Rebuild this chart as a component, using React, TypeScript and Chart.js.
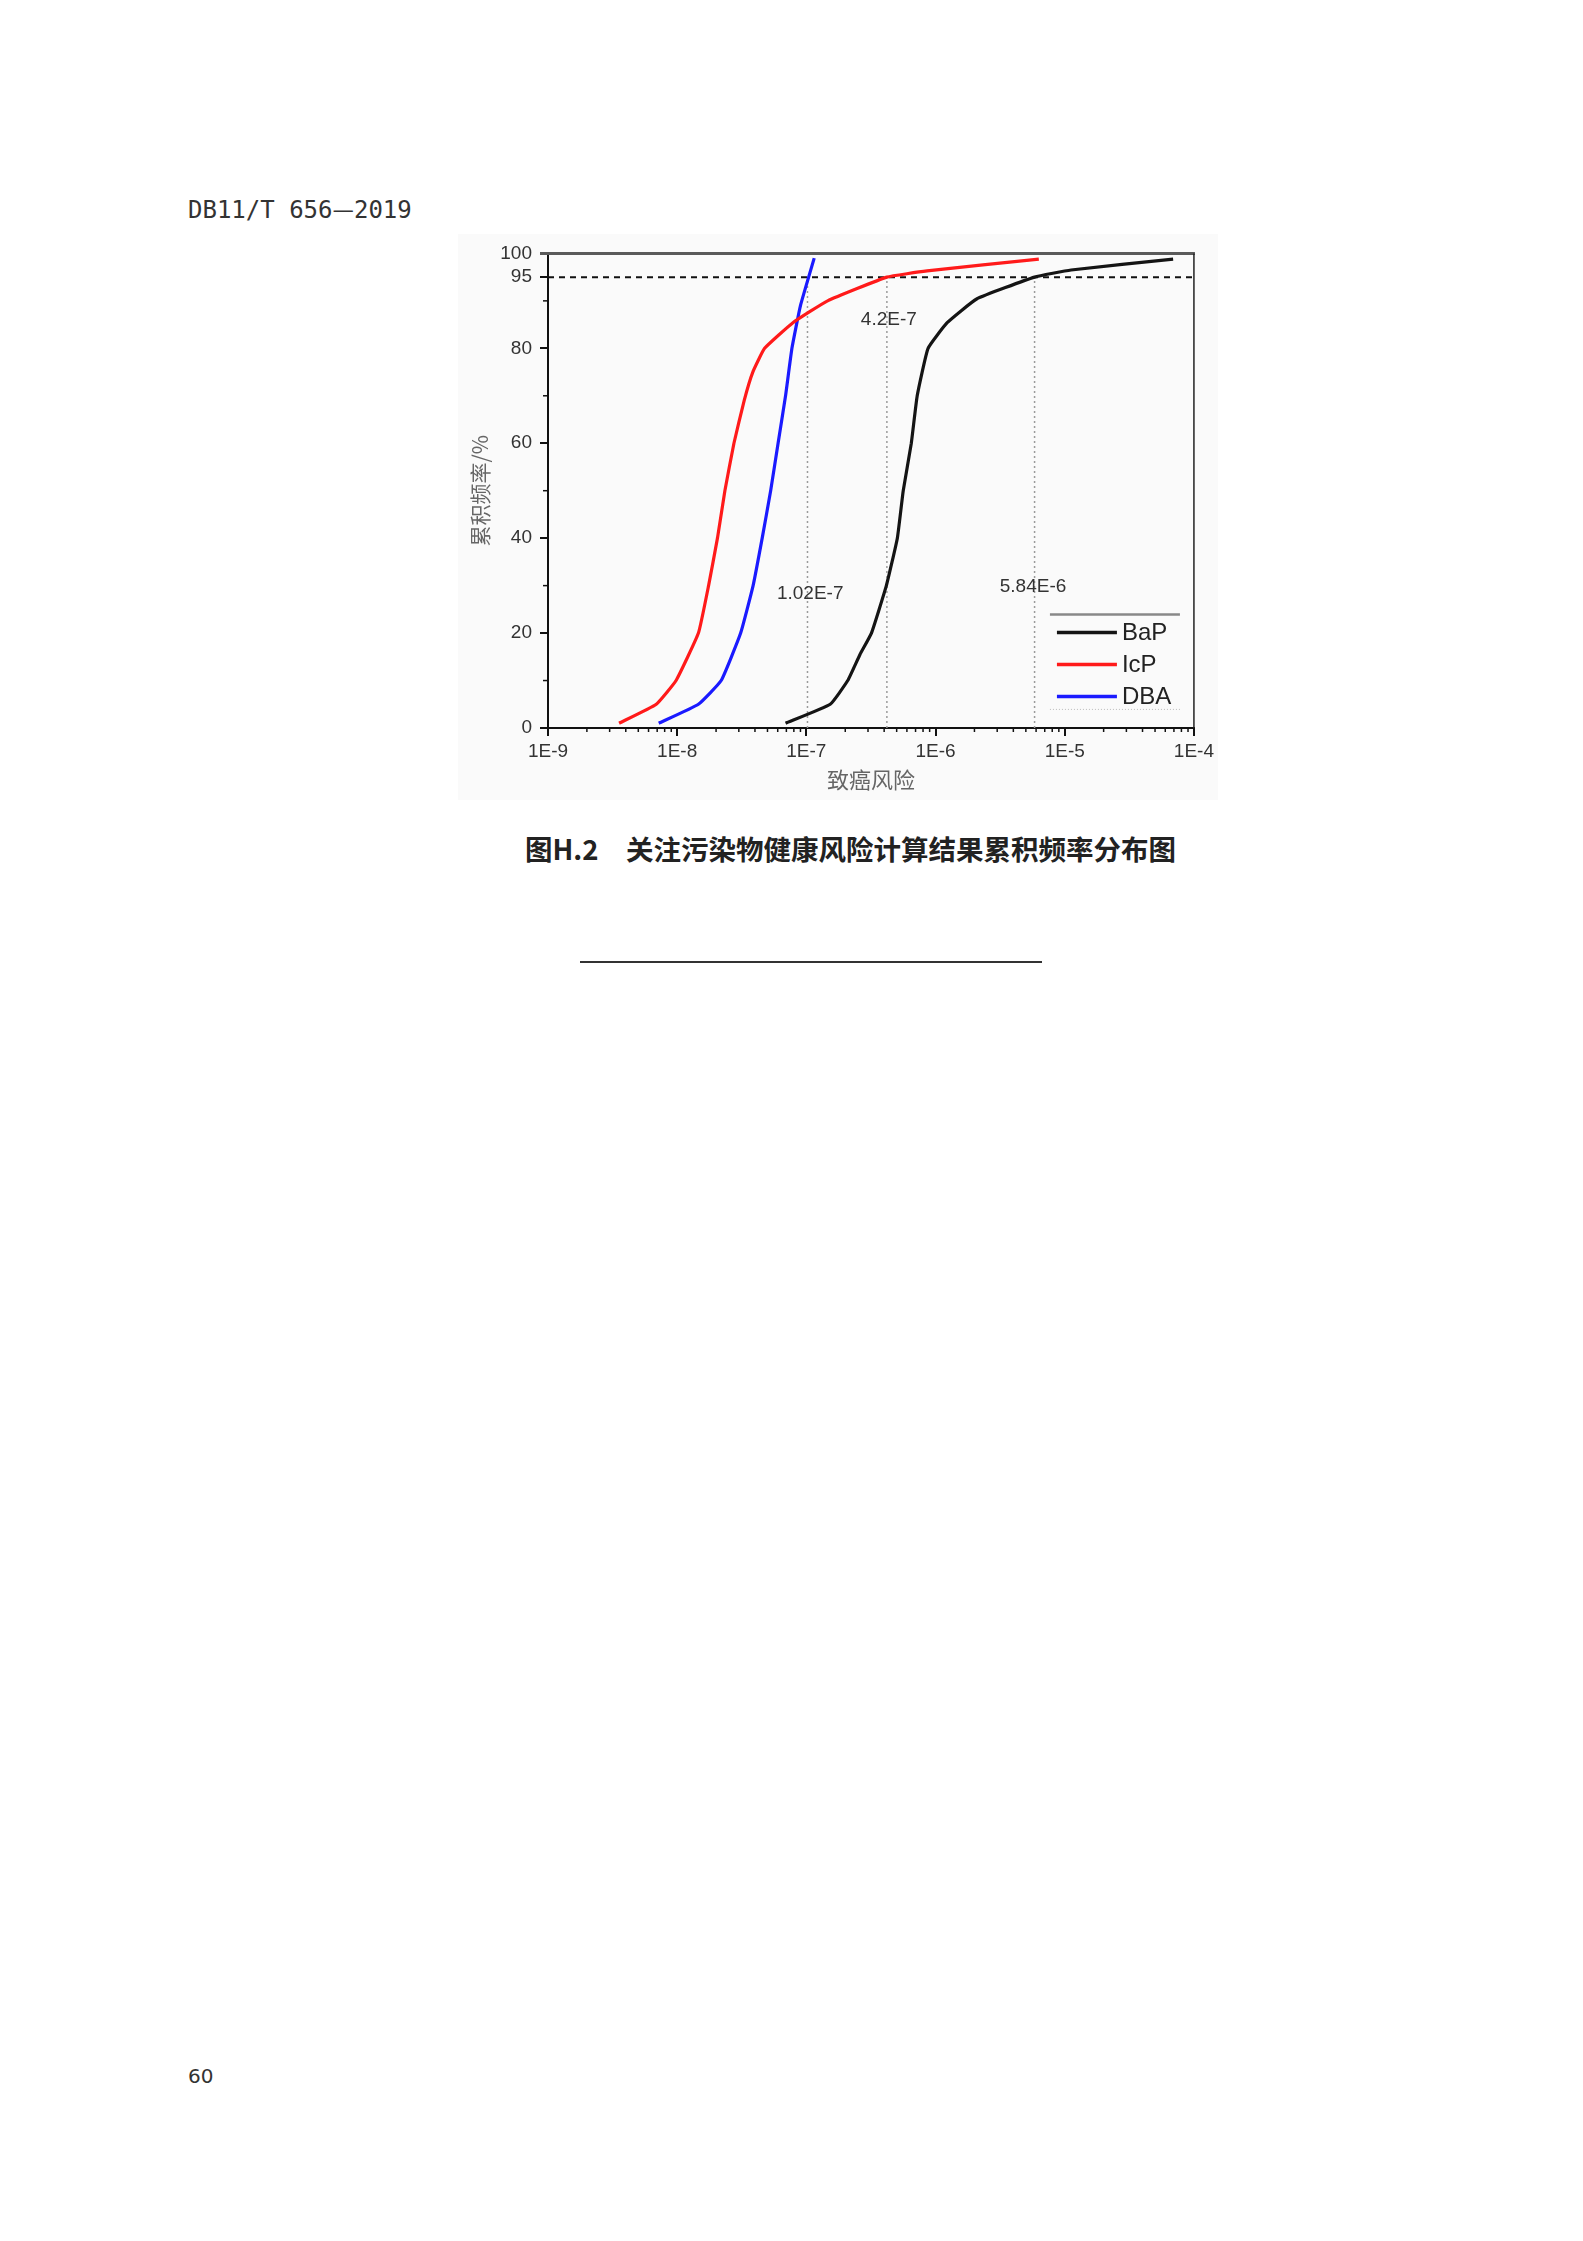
import React, { useEffect, useRef } from "react";
import { Chart, registerables } from "chart.js";

Chart.register(...registerables);

// ---------- data ----------
const seriesNames = ["BaP", "IcP", "DBA"];
const seriesColors = ["#141414", "#ff1a1a", "#1a1aff"];

const bapRisk = [6.9e-8, 1.53e-7, 2.09e-7, 2.6e-7, 3.19e-7, 4.16e-7, 5.06e-7, 5.62e-7, 6.49e-7, 7.21e-7, 8.75e-7, 1.23e-6, 2.08e-6, 5.84e-6, 1.12e-5, 6.9e-5];
const bapFreq = [1, 5, 10, 15.5, 20, 30, 40, 50, 60, 70, 80, 85.4, 90.4, 95, 96.5, 98.8];

const icpRisk = [3.55e-9, 6.89e-9, 9.8e-9, 1.46e-8, 1.75e-8, 2.05e-8, 2.34e-8, 2.75e-8, 3.3e-8, 3.85e-8, 4.75e-8, 7.87e-8, 1.46e-7, 4.2e-7, 8.6e-7, 6.3e-6];
const icpFreq = [1, 5, 10, 20, 30, 40, 50, 60, 69, 75, 80, 85.4, 90, 95, 96.3, 98.8];

const dbaRisk = [7.2e-9, 1.46e-8, 2.19e-8, 3.1e-8, 3.87e-8, 4.55e-8, 5.29e-8, 6.04e-8, 6.9e-8, 7.73e-8, 9.0e-8, 1.15e-7];
const dbaFreq = [1, 5, 10, 20, 30, 40, 50, 60, 70, 80, 89, 99];

const xTickValues = [1e-9, 1e-8, 1e-7, 1e-6, 1e-5, 1e-4];
const xTickLabels = ["1E-9", "1E-8", "1E-7", "1E-6", "1E-5", "1E-4"];
const yTickValues = [0, 20, 40, 60, 80, 95, 100];
const yMinorTicks = [10, 30, 50, 70, 90];
const xMinorMultipliers = [2, 3, 4, 5, 6, 7, 8, 9];

const refLevel = 95;
const refRisks = [1.02e-7, 4.2e-7, 5.84e-6];
const refLabels = ["1.02E-7", "4.2E-7", "5.84E-6"];
const refLabelRisk = [1.07e-7, 4.35e-7, 5.68e-6];
const refLabelFreq = [28.2, 86, 29.7];

const xTitle = "致癌风险";
const yTitle = "累积频率/%";

const headerPre = "DB11/T 656";
const headerDash = "—";
const headerPost = "2019";
const captionText = "图H.2\u3000关注污染物健康风险计算结果累积频率分布图";
const pageNumber = "60";

// ---------- helpers ----------
const toPoints = (xs: number[], ys: number[]) => xs.map((x, i) => ({ x, y: ys[i] }));

const decorPlugin = {
  id: "decor",
  afterDatasetsDraw(chart: any) {
    const { ctx, chartArea, scales } = chart;
    const xs = scales.x;
    const ys = scales.y;
    const { left, right, top, bottom } = chartArea;
    ctx.save();
    // top frame
    ctx.strokeStyle = "#5a5a5a";
    ctx.lineWidth = 3;
    ctx.beginPath();
    ctx.moveTo(left - 8, top);
    ctx.lineTo(right + 1, top);
    ctx.stroke();
    // right frame
    ctx.strokeStyle = "#222";
    ctx.lineWidth = 1.5;
    ctx.beginPath();
    ctx.moveTo(right, top);
    ctx.lineTo(right, bottom);
    ctx.stroke();
    // minor ticks
    ctx.strokeStyle = "#111";
    ctx.lineWidth = 1.5;
    yMinorTicks.forEach((v) => {
      const y = ys.getPixelForValue(v);
      ctx.beginPath();
      ctx.moveTo(left - 5, y);
      ctx.lineTo(left, y);
      ctx.stroke();
    });
    for (let d = -9; d < -4; d++) {
      xMinorMultipliers.forEach((m) => {
        const x = xs.getPixelForValue(m * Math.pow(10, d));
        ctx.beginPath();
        ctx.moveTo(x, bottom);
        ctx.lineTo(x, bottom + 4);
        ctx.stroke();
      });
    }
    // annotation labels
    ctx.fillStyle = "#333";
    ctx.font = "19px 'Liberation Sans', Arial, sans-serif";
    ctx.textAlign = "center";
    ctx.textBaseline = "middle";
    refLabels.forEach((t, i) => {
      ctx.fillText(t, xs.getPixelForValue(refLabelRisk[i]), ys.getPixelForValue(refLabelFreq[i]));
    });
    // legend
    const lx0 = right - 144;
    const lx1 = right - 14;
    const ly0 = top + 361;
    ctx.strokeStyle = "#888";
    ctx.lineWidth = 2.5;
    ctx.beginPath();
    ctx.moveTo(lx0, ly0);
    ctx.lineTo(lx1, ly0);
    ctx.stroke();
    ctx.strokeStyle = "#bbb";
    ctx.lineWidth = 1;
    ctx.setLineDash([1, 2]);
    ctx.beginPath();
    ctx.moveTo(lx0, ly0 + 95);
    ctx.lineTo(lx1, ly0 + 95);
    ctx.stroke();
    ctx.setLineDash([]);
    ctx.textAlign = "left";
    ctx.font = "24px 'Liberation Sans', Arial, sans-serif";
    const ds = chart.data.datasets.slice(0, 3);
    ds.forEach((d: any, i: number) => {
      const y = ly0 + 18 + i * 32;
      ctx.strokeStyle = d.borderColor;
      ctx.lineWidth = 3.5;
      ctx.beginPath();
      ctx.moveTo(lx0 + 7, y);
      ctx.lineTo(lx0 + 67, y);
      ctx.stroke();
      ctx.fillStyle = "#222";
      ctx.fillText(d.label, lx0 + 72, y + 1);
    });
    ctx.restore();
  },
};

export default function App() {
  const ref = useRef<HTMLCanvasElement | null>(null);

  useEffect(() => {
    if (!ref.current) return;
    const tickFont = { family: "'Liberation Sans', Arial, sans-serif", size: 19 };
    const datasets: any[] = [
      { label: seriesNames[0], data: toPoints(bapRisk, bapFreq), borderColor: seriesColors[0] },
      { label: seriesNames[1], data: toPoints(icpRisk, icpFreq), borderColor: seriesColors[1] },
      { label: seriesNames[2], data: toPoints(dbaRisk, dbaFreq), borderColor: seriesColors[2] },
    ].map((d) => ({ ...d, showLine: true, borderWidth: 3.2, pointRadius: 0, tension: 0.12, backgroundColor: d.borderColor }));

    datasets.push({
      label: "p95",
      data: toPoints([xTickValues[0], xTickValues[xTickValues.length - 1]], [refLevel, refLevel]),
      showLine: true,
      borderColor: "#111",
      borderWidth: 2,
      borderDash: [6, 5],
      pointRadius: 0,
    });
    refRisks.forEach((r) => {
      datasets.push({
        label: "ref",
        data: toPoints([r, r], [0, refLevel]),
        showLine: true,
        borderColor: "#9a9a9a",
        borderWidth: 1.5,
        borderDash: [2, 3],
        pointRadius: 0,
      });
    });

    const chart = new Chart(ref.current, {
      type: "scatter",
      data: { datasets },
      options: {
        responsive: false,
        animation: false,
        devicePixelRatio: 1,
        layout: { padding: { top: 16, right: 24, left: 0, bottom: 0 } },
        plugins: { legend: { display: false }, tooltip: { enabled: false } },
        scales: {
          x: {
            type: "logarithmic",
            min: xTickValues[0],
            max: xTickValues[xTickValues.length - 1],
            afterBuildTicks: (s: any) => {
              s.ticks = xTickValues.map((v) => ({ value: v }));
            },
            afterFit: (s: any) => {
              s.height = 72;
            },
            ticks: {
              autoSkip: false,
              maxRotation: 0,
              padding: 4,
              color: "#333",
              font: tickFont,
              callback: (_v: any, i: number) => xTickLabels[i],
            },
            grid: { display: true, drawOnChartArea: false, drawTicks: true, tickLength: 8, color: "#111", lineWidth: 2 },
            border: { display: true, color: "#111", width: 2 },
            title: {
              display: true,
              text: xTitle,
              color: "#666",
              font: { family: "'Noto Sans CJK SC', sans-serif", size: 22 },
              padding: { top: 0, bottom: 7 },
            },
          },
          y: {
            type: "linear",
            min: 0,
            max: 100,
            afterBuildTicks: (s: any) => {
              s.ticks = yTickValues.map((v) => ({ value: v }));
            },
            afterFit: (s: any) => {
              s.width = 90;
            },
            ticks: {
              autoSkip: false,
              padding: 8,
              color: "#333",
              font: tickFont,
              callback: (v: any) => String(v),
            },
            grid: { display: true, drawOnChartArea: false, drawTicks: true, tickLength: 8, color: "#111", lineWidth: 2 },
            border: { display: true, color: "#111", width: 2 },
            title: {
              display: true,
              text: yTitle,
              color: "#666",
              font: { family: "'Noto Sans CJK SC', sans-serif", size: 21 },
              padding: { top: 9, bottom: 0 },
            },
          },
        },
      } as any,
      plugins: [decorPlugin],
    });
    return () => chart.destroy();
  }, []);

  return (
    <div style={{ position: "relative", width: 1583, height: 2241, background: "#fff", overflow: "hidden" }}>
      <style>{`body{margin:0}`}</style>
      <div
        style={{
          position: "absolute",
          left: 188,
          top: 195,
          fontFamily: "'DejaVu Sans Mono', monospace",
          fontSize: 24,
          lineHeight: "25px",
          color: "#333",
          whiteSpace: "nowrap",
        }}
      >
        {headerPre}
        <span style={{ fontFamily: "'Noto Sans CJK SC', sans-serif" }}>{headerDash}</span>
        {headerPost}
      </div>
      <div style={{ position: "absolute", left: 458, top: 234, width: 760, height: 566, background: "#fafafa" }}>
        <canvas ref={ref} width={760} height={566} style={{ display: "block", width: 760, height: 566 }} />
      </div>
      <div
        style={{
          position: "absolute",
          left: 525,
          top: 834,
          fontFamily: "'Noto Sans CJK SC', sans-serif",
          fontWeight: 700,
          fontSize: 27.5,
          lineHeight: "28px",
          color: "#222",
          whiteSpace: "nowrap",
        }}
      >
        {captionText}
      </div>
      <div style={{ position: "absolute", left: 580, top: 961, width: 462, height: 2, background: "#333" }} />
      <div
        style={{
          position: "absolute",
          left: 188,
          top: 2066,
          fontFamily: "'DejaVu Sans', sans-serif",
          fontSize: 20,
          lineHeight: "20px",
          color: "#333",
        }}
      >
        {pageNumber}
      </div>
    </div>
  );
}
